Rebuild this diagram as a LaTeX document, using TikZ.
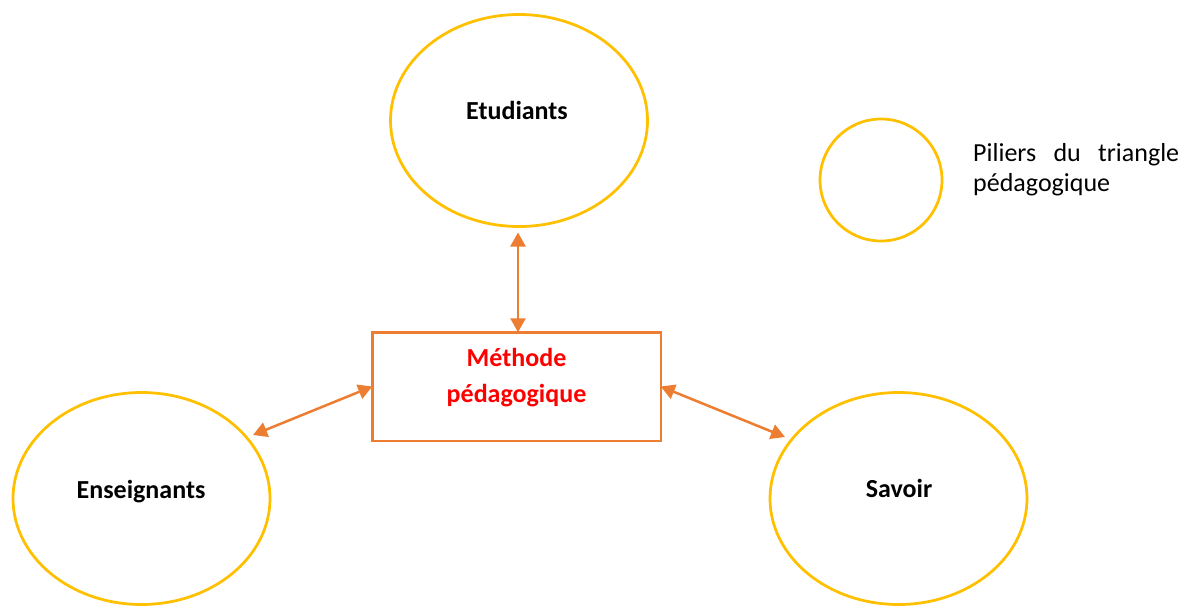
\documentclass[tikz,border=0pt]{standalone}
\usepackage{fontspec}
\setmainfont{Carlito}
\usetikzlibrary{arrows.meta,shapes.geometric}

\definecolor{pillargold}{HTML}{FFC000}
\definecolor{linkorange}{HTML}{ED7D31}
\definecolor{methodred}{HTML}{FF0000}

\tikzset{
  pillar/.style={ellipse, draw=pillargold, line width=2.75pt, fill=white,
    minimum width=257pt, minimum height=212pt, inner sep=0pt, outer sep=0pt},
  pillarlabel/.style={font=\fontsize{26}{30}\selectfont\bfseries,
    anchor=base, inner sep=0pt},
  methodbox/.style={draw=linkorange, line width=2.5pt, fill=white,
    minimum width=288.5pt, minimum height=108.5pt, inner sep=0pt, outer sep=0pt},
  methodlabel/.style={font=\fontsize{26}{36}\selectfont\bfseries,
    text=methodred, align=center, inner sep=0pt},
  link/.style={draw=linkorange, line width=2.5pt,
    {Triangle[length=14pt,width=15pt]}-{Triangle[length=14pt,width=15pt]}},
  legendmark/.style={circle, draw=pillargold, line width=2.75pt,
    minimum size=122pt, inner sep=0pt},
  legendtext/.style={font=\fontsize{26}{30}\selectfont, align=left,
    inner sep=0pt, anchor=north west},
}

\begin{document}
\begin{tikzpicture}[x=1pt,y=-1pt]
  \useasboundingbox[fill=white] (0,0) rectangle (1194,606);

  % the three pillars
  \node[pillar] (etu) at (519,120.5) {};
  \node[pillar] (ens) at (141.5,498.5) {};
  \node[pillar] (sav) at (898.5,498.5) {};
  \node[pillarlabel] (etuname) at (517,119) {Etudiants};
  \node[pillarlabel] (ensname) at (141,498.5) {Enseignants};
  \node[pillarlabel] (savname) at (899,497.5) {Savoir};

  % the method in the middle
  \node[methodbox] (meth) at (516.5,386.5) {};
  \node[methodlabel] (methname) at (516.5,378) {Méthode\\pédagogique};

  % arrow ends near the pillars
  \coordinate (etutip) at (518,232.5);
  \coordinate (enstip) at (253,435);
  \coordinate (savtip) at (785,437);

  \draw[link] (meth.north -| etutip) -- (etutip);
  \draw[link] (meth.west) -- (enstip);
  \draw[link] (meth.east) -- (savtip);

  % legend
  \node[legendmark] (legmark) at (881,180) {};
  \node[legendtext] (legtext) at (973,143)
    {\makebox[206pt][s]{Piliers du triangle}\\pédagogique};
\end{tikzpicture}
\end{document}
